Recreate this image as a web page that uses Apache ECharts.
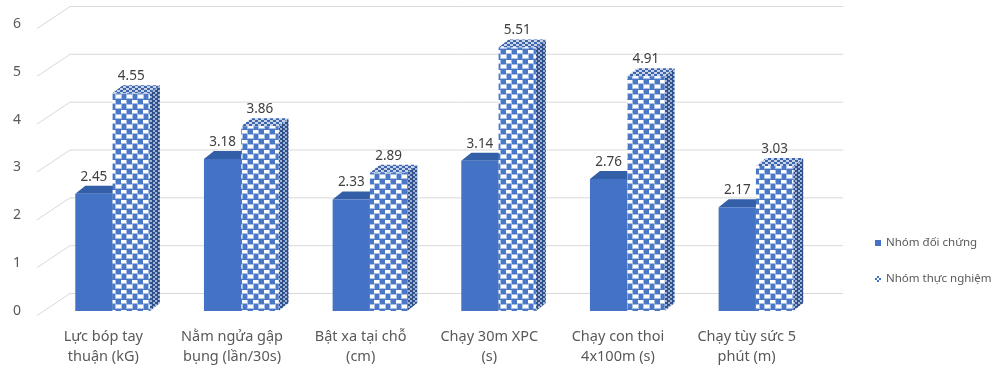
<!DOCTYPE html>
<html>
<head>
<meta charset="utf-8">
<script src="https://cdn.jsdelivr.net/npm/echarts@6/dist/echarts.min.js"></script>
<style>
  html, body { margin: 0; padding: 0; background: #ffffff; }
  #chart { width: 993px; height: 383px; }
</style>
</head>
<body>
<div id="chart"></div>
<script>
// Test categories (two-line labels)
const categories = [
  'Lực bóp tay\nthuận (kG)',
  'Nằm ngửa gập\nbụng (lần/30s)',
  'Bật xa tại chỗ\n(cm)',
  'Chạy 30m XPC\n(s)',
  'Chạy con thoi\n4x100m (s)',
  'Chạy tùy sức 5\nphút (m)'
];
const seriesNames = ['Nhóm đối chứng', 'Nhóm thực nghiệm'];
const controlValues = [2.45, 3.18, 2.33, 3.14, 2.76, 2.17];
const experimentValues = [4.55, 3.86, 2.89, 5.51, 4.91, 3.03];
const yTicks = [0, 1, 2, 3, 4, 5, 6];

const FONT = '"Noto Sans", "DejaVu Sans", sans-serif';
const BLUE = '#4472C4';
const DEPTH_X = 10, DEPTH_Y = 8;

// Checkerboard fill tile: light cells on a coloured ground, with a soft edge
function makeChecker(bg, fg, edge, w, h, cw, ch) {
  const c = document.createElement('canvas');
  c.width = w; c.height = h;
  const ctx = c.getContext('2d');
  ctx.fillStyle = bg; ctx.fillRect(0, 0, w, h);
  const half = Math.round(w / 2);
  const cells = [[0, 0], [half, h / 2], [half - w, h / 2]];
  cells.forEach(([x, y]) => {
    if (edge) {
      ctx.fillStyle = edge;
      ctx.fillRect(x - 1, y - 1, cw + 2, ch + 2);
    }
    ctx.fillStyle = fg;
    ctx.fillRect(x, y, cw, ch);
  });
  return c;
}
const frontPattern = { image: makeChecker('#4A78C6', '#ffffff', '#A8BFE6', 11, 10, 5, 3), repeat: 'repeat' };
const sidePattern = { image: makeChecker('#2F528F', '#A3B3D2', null, 5, 4, 2, 2), repeat: 'repeat' };
const topPattern = { image: makeChecker('#3E66AD', '#C9D4EA', null, 6, 4, 3, 2), repeat: 'repeat' };
const legendPattern = { image: makeChecker(BLUE, '#ffffff', null, 4, 4, 2, 2), repeat: 'repeat' };

// 3D-looking bar: front face, top face, right side face, value label
function barRenderer(slot) {
  return function (params, api) {
    const idx = api.value(0);
    const val = api.value(1);
    const topPt = api.coord([idx, val]);
    const basePt = api.coord([idx, 0]);
    const band = api.size([1, 0])[0];
    const w = band * 0.29;
    const left = topPt[0] - band * 0.218 + slot * w;
    const right = left + w;
    const yt = topPt[1], yb = basePt[1];
    const solid = slot === 0;
    const frontFill = solid ? BLUE : frontPattern;
    const topFill = solid ? '#335FA8' : topPattern;
    const sideFill = solid ? '#2F528F' : sidePattern;
    return {
      type: 'group',
      children: [
        {
          type: 'polygon',
          shape: { points: [[right, yt], [right + DEPTH_X, yt - DEPTH_Y], [right + DEPTH_X, yb - DEPTH_Y], [right, yb]] },
          style: { fill: sideFill }
        },
        {
          type: 'polygon',
          shape: { points: [[left, yt], [left + DEPTH_X, yt - DEPTH_Y], [right + DEPTH_X, yt - DEPTH_Y], [right, yt]] },
          style: { fill: topFill }
        },
        {
          type: 'rect',
          shape: { x: left, y: yt, width: w, height: yb - yt },
          style: { fill: frontFill }
        },
        {
          type: 'text',
          style: {
            text: val.toFixed(2),
            x: left + w / 2,
            y: yt - 17,
            align: 'center',
            verticalAlign: 'middle',
            fill: '#404040',
            font: '13.5px ' + FONT
          }
        }
      ]
    };
  };
}

// Back-wall gridlines with the floor diagonal on the left
function gridRenderer(params, api) {
  const v = api.value(1);
  const y = api.coord([0, v])[1];
  return {
    type: 'polyline',
    shape: { points: [[37, y + 4.5], [70, y - 17.5], [843, y - 17.5]] },
    style: { stroke: '#D9D9D9', lineWidth: 1, fill: null }
  };
}

const chart = echarts.init(document.getElementById('chart'), null, { renderer: 'canvas' });
chart.setOption({
  backgroundColor: '#ffffff',
  animation: false,
  grid: { left: 39, right: 182, top: 24, bottom: 72, containLabel: false },
  legend: {
    orient: 'vertical',
    left: 870,
    top: 232,
    itemGap: 24,
    itemWidth: 6,
    itemHeight: 6,
    icon: 'rect',
    data: seriesNames,
    textStyle: { color: '#595959', fontSize: 11.5, fontFamily: FONT },
    selectedMode: false
  },
  xAxis: {
    type: 'category',
    data: categories,
    axisLine: { show: false },
    axisTick: { show: false },
    splitLine: { show: false },
    axisLabel: {
      color: '#595959',
      fontSize: 14.5,
      fontFamily: FONT,
      lineHeight: 20,
      margin: 16,
      interval: 0
    }
  },
  yAxis: {
    type: 'value',
    min: 0,
    max: 6,
    interval: 1,
    axisLine: { show: false },
    axisTick: { show: false },
    splitLine: { show: false },
    axisLabel: {
      color: '#595959',
      fontSize: 14,
      fontFamily: FONT,
      margin: 18,
      padding: [12, 0, 0, 0]
    }
  },
  series: [
    {
      name: 'grid',
      type: 'custom',
      renderItem: gridRenderer,
      data: yTicks.map(v => [0, v]),
      encode: { x: 0, y: 1 },
      clip: false,
      silent: true,
      z: 1
    },
    {
      name: seriesNames[0],
      type: 'custom',
      renderItem: barRenderer(0),
      data: controlValues.map((v, i) => [i, v]),
      encode: { x: 0, y: 1 },
      itemStyle: { color: BLUE },
      clip: false,
      z: 2
    },
    {
      name: seriesNames[1],
      type: 'custom',
      renderItem: barRenderer(1),
      data: experimentValues.map((v, i) => [i, v]),
      encode: { x: 0, y: 1 },
      itemStyle: { color: legendPattern },
      clip: false,
      z: 3
    }
  ]
});
</script>
</body>
</html>
